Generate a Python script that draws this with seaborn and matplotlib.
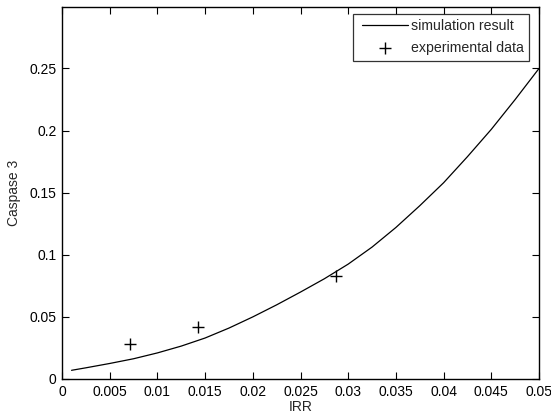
import matplotlib
matplotlib.use("Agg")
import matplotlib.pyplot as plt
from matplotlib.lines import Line2D
from matplotlib.collections import PathCollection
from matplotlib.legend_handler import HandlerLine2D, HandlerPathCollection
import seaborn as sns
import pandas as pd

# Simulation curve
sim_irr = [0.001, 0.0025, 0.005, 0.0075, 0.010, 0.0125, 0.015, 0.0175, 0.020,
           0.0225, 0.025, 0.0275, 0.030, 0.0325, 0.035, 0.0375, 0.040, 0.0425,
           0.045, 0.0475, 0.050]
sim_casp = [0.0070, 0.0090, 0.0125, 0.0163, 0.0210, 0.0265, 0.0330, 0.0410, 0.0500,
            0.0597, 0.0700, 0.0807, 0.0925, 0.1062, 0.1220, 0.1395, 0.1580, 0.1790,
            0.2010, 0.2250, 0.2500]

# Experimental data
exp_irr = [0.00713, 0.01429, 0.02869]
exp_casp = [0.0282, 0.0420, 0.0828]

x_ticks = [0, 0.005, 0.01, 0.015, 0.02, 0.025, 0.03, 0.035, 0.04, 0.045, 0.05]
x_labels = ["0", "0.005", "0.01", "0.015", "0.02", "0.025", "0.03", "0.035", "0.04", "0.045", "0.05"]
y_ticks = [0, 0.05, 0.1, 0.15, 0.2, 0.25]
y_labels = ["0", "0.05", "0.1", "0.15", "0.2", "0.25"]

sns.set_style("ticks")
plt.rcParams["font.family"] = ["Liberation Sans", "DejaVu Sans"]
plt.rcParams["font.size"] = 10

sim_df = pd.DataFrame({"IRR": sim_irr, "Caspase 3": sim_casp})
exp_df = pd.DataFrame({"IRR": exp_irr, "Caspase 3": exp_casp})

fig = plt.figure(figsize=(5.51, 4.16), dpi=100)
ax = fig.add_axes([62 / 551, 37 / 416, 477 / 551, 372 / 416])

sns.lineplot(data=sim_df, x="IRR", y="Caspase 3", ax=ax, color="black",
             linewidth=0.9, label="simulation result")
sns.scatterplot(data=exp_df, x="IRR", y="Caspase 3", ax=ax, color="black",
                marker="+", s=70, linewidth=1.0, label="experimental data")

ax.set_xlim(0, 0.05)
ax.set_ylim(0, 0.2995)
ax.set_xticks(x_ticks)
ax.set_xticklabels(x_labels)
ax.set_yticks(y_ticks)
ax.set_yticklabels(y_labels)
ax.tick_params(direction="in", length=5, width=0.8, top=True, right=True,
               labelsize=10, colors="black", pad=4)
for s in ax.spines.values():
    s.set_visible(True)
    s.set_linewidth(1.0)
    s.set_color("black")

ax.set_xlabel("IRR", fontsize=10, labelpad=1)
ax.set_ylabel("Caspase 3", fontsize=10, labelpad=6)

leg = ax.legend(loc="upper right", bbox_to_anchor=(1 - 10 / 477, 1 - 7 / 372),
                borderaxespad=0, frameon=True, fancybox=False, fontsize=10.2,
                handlelength=3.5, handletextpad=0.2, borderpad=0.38,
                labelspacing=0.55,
                handler_map={Line2D: HandlerLine2D(xpad=0.28),
                             PathCollection: HandlerPathCollection(xpad=0.28)})
leg.get_frame().set_edgecolor("black")
leg.get_frame().set_linewidth(0.9)

fig.savefig("out.png", dpi=100)
